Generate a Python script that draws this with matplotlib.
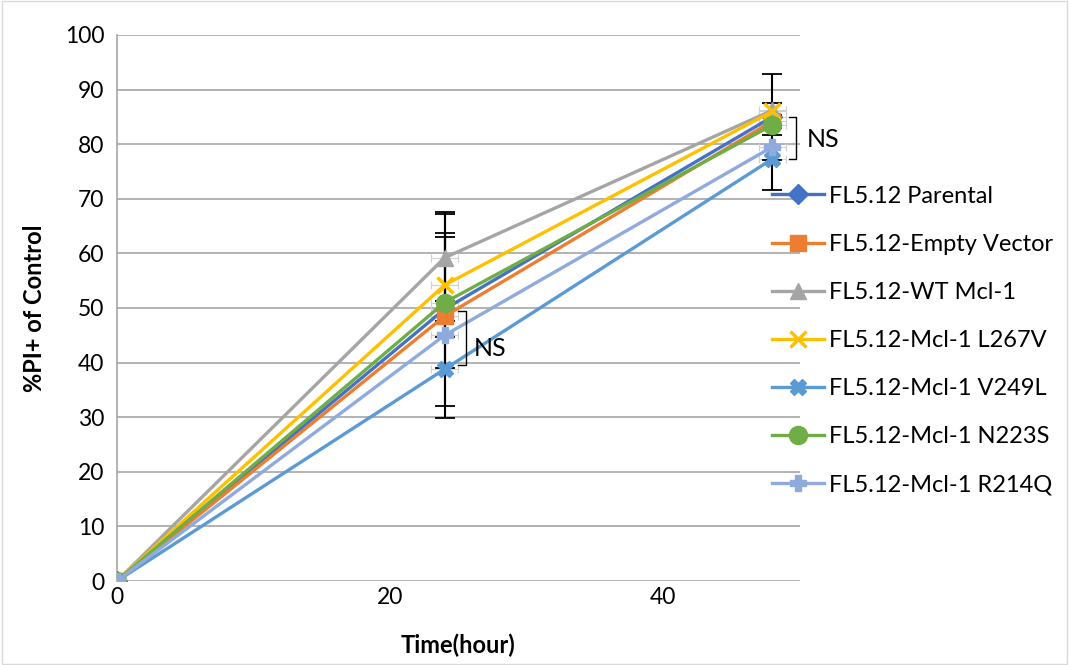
import matplotlib.pyplot as plt
from matplotlib.patches import Rectangle

plt.rcParams['font.family'] = ['Lato', 'DejaVu Sans']

# time points (hours)
time_h = [0, 24, 48]

labels = ['FL5.12 Parental', 'FL5.12-Empty Vector', 'FL5.12-WT Mcl-1',
          'FL5.12-Mcl-1 L267V', 'FL5.12-Mcl-1 V249L', 'FL5.12-Mcl-1 N223S',
          'FL5.12-Mcl-1 R214Q']

parental = [0, 49.8, 85.0]
empty_vec = [0, 48.5, 84.2]
wt_mcl1 = [0, 59.2, 86.2]
l267v = [0, 54.2, 86.0]
v249l = [0, 38.8, 77.3]
n223s = [0, 51.0, 83.5]
r214q = [0, 45.0, 79.5]

# y error (SD) read from the caps, 0 = no bar
err_parental = [0, 17.8, 7.9]
err_empty = [0, 0, 0]
err_wt = [0, 8.0, 1.3]
err_l267v = [0, 9.5, 0]
err_v249l = [0, 8.9, 5.7]
err_n223s = [0, 12.0, 1.8]
err_r214q = [0, 0, 0]

series = [parental, empty_vec, wt_mcl1, l267v, v249l, n223s, r214q]
errors = [err_parental, err_empty, err_wt, err_l267v, err_v249l, err_n223s, err_r214q]
colors = ['#4472C4', '#ED7D31', '#A5A5A5', '#FFC000', '#5B9BD5', '#70AD47', '#8FAADC']
markers = ['D', 's', '^', 'x', 'X', 'o', 'P']
msizes = [10, 12, 12, 11, 11, 13, 11]

fig = plt.figure(figsize=(10.69, 6.65), dpi=100)
ax = fig.add_axes([0.1094, 0.1263, 0.6386, 0.8211])

# light grey x error bars behind the markers
for vals in series:
    ax.errorbar(time_h[1:], vals[1:], xerr=1.0, fmt='none', ecolor='#D0D0D0',
                elinewidth=0.8, capsize=3, capthick=0.8, zorder=2)

# black y error bars, drawn under the lines/markers
for vals, err in zip(series, errors):
    xs = [t for t, e in zip(time_h, err) if e > 0]
    ys = [v for v, e in zip(vals, err) if e > 0]
    es = [e for e in err if e > 0]
    if xs:
        ax.errorbar(xs, ys, yerr=es, fmt='none', ecolor='black',
                    elinewidth=1.5, capsize=7, capthick=1.3, zorder=2.5)

lines = []
for vals, c, m, ms, lab in zip(series, colors, markers, msizes, labels):
    ln, = ax.plot(time_h, vals, color=c, lw=2.4, marker=m, ms=ms,
                  mew=2.5 if m == 'x' else 1, label=lab, zorder=3)
    lines.append(ln)

ax.set_xlim(0, 50)
ax.set_ylim(0, 100)
ax.set_xticks([0, 20, 40])
ax.set_yticks(range(0, 101, 10))
ax.yaxis.grid(True, color='#A6A6A6', lw=1.2)
ax.set_axisbelow(True)
for s in ax.spines.values():
    s.set_visible(False)
ax.spines['left'].set_visible(True)
ax.spines['left'].set_color('#A6A6A6')
ax.spines['left'].set_linewidth(1.2)
ax.tick_params(length=0, labelsize=16.5)
ax.tick_params(axis='x', pad=4)
ax.tick_params(axis='y', pad=9)
ax.set_xlabel('Time(hour)', fontsize=17, fontweight='bold', labelpad=19)
ax.set_ylabel('%PI+ of Control', fontsize=17, fontweight='bold', labelpad=14)

# NS brackets
ax.plot([25.0, 25.6, 25.6, 25.0], [49.5, 49.5, 39.5, 39.5], color='black', lw=1, clip_on=False, zorder=5)
ax.text(26.1, 42.5, 'NS', fontsize=18, va='center', ha='left')
ax.plot([49.2, 49.7, 49.7, 49.2], [85.0, 85.0, 77.3, 77.3], color='black', lw=1, clip_on=False, zorder=5)
ax.text(50.5, 80.8, 'NS', fontsize=18, va='center', ha='left')

ax.legend(handles=lines, loc='upper left', bbox_to_anchor=(0.713, 0.735),
          bbox_transform=fig.transFigure, frameon=False, fontsize=17,
          handlelength=2.2, labelspacing=1.15, handletextpad=0.25, borderaxespad=0)

fig.patches.append(Rectangle((0.002, 0.002), 0.996, 0.996, transform=fig.transFigure,
                             fill=False, edgecolor='#D9D9D9', lw=1))

fig.savefig('out.png', dpi=100)
